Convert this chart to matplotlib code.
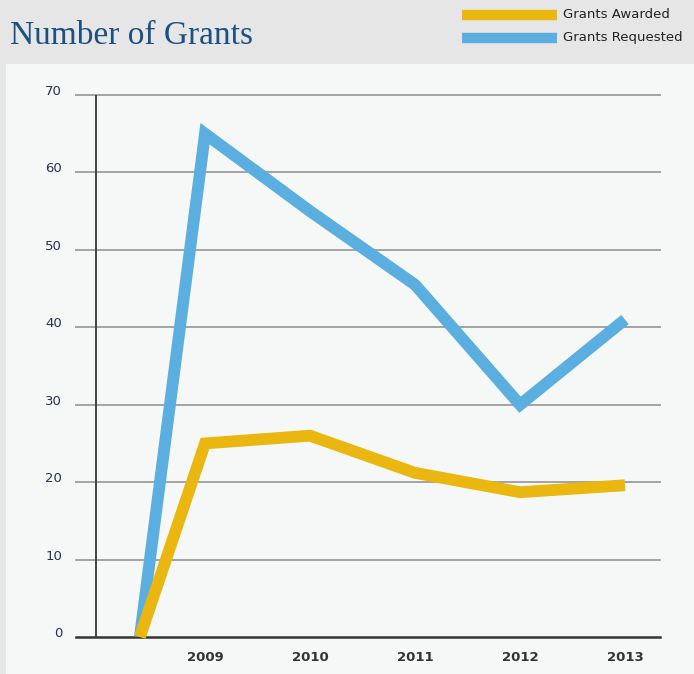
import numpy as np
import matplotlib
matplotlib.use("Agg")
import matplotlib.pyplot as plt
from matplotlib.patches import Rectangle

# data
years = [2009, 2010, 2011, 2012, 2013]
start_x = 2008.38
requested = [0, 65, 55, 45.5, 30, 41]
awarded = [0, 25, 26, 21.2, 18.7, 19.6]
yticks = [0, 10, 20, 30, 40, 50, 60, 70]

blue = '#5aaee0'
gold = '#e9b70f'

W, H = 694, 674
fig = plt.figure(figsize=(W / 100, H / 100), dpi=100)
fig.patch.set_facecolor('#e6e6e6')

# light panel behind the plot
fig.patches.append(Rectangle((6 / W, 0), 1 - 6 / W, (H - 64) / H,
                             transform=fig.transFigure, facecolor='#f6f8f8',
                             edgecolor='none', zorder=-10))

ax = fig.add_axes([76 / W, (H - 637) / H, (660 - 76) / W, (637 - 95) / H])
ax.set_facecolor('none')

xs = [start_x] + years
ax.plot(xs, requested, color=blue, lw=8.5, solid_capstyle='butt',
        solid_joinstyle='miter', zorder=3, clip_on=False, label='Grants Requested')
ax.plot(xs, awarded, color=gold, lw=8.5, solid_capstyle='butt',
        solid_joinstyle='miter', zorder=4, clip_on=False, label='Grants Awarded')

ax.set_xlim(2009 - 129 / 105, 2013 + 35 / 105)
ax.set_ylim(0, 70)

for t in yticks[1:]:
    ax.axhline(t, color='#a3a3a3', lw=1.4, zorder=1, clip_on=False)
ax.axhline(0, color='#333333', lw=1.8, zorder=2, clip_on=False)
ax.axvline(2009 - 109 / 105, color='#444444', lw=1.4, zorder=2)

for s in ax.spines.values():
    s.set_visible(False)

ax.set_yticks(yticks)
ax.set_yticklabels([str(t) for t in yticks], fontsize=9.5, color='#2b2f5c',
                   family='DejaVu Sans')
ax.tick_params(axis='y', length=0, pad=10)
for lab in ax.get_yticklabels():
    lab.set_va('baseline')

ax.set_xticks(years)
ax.set_xticklabels([str(y) for y in years], fontsize=9.5, fontweight='bold',
                   color='#333333')
ax.tick_params(axis='x', length=0, pad=10)

fig.text(10 / W, 1 - 44 / H, 'Number of Grants', family='Liberation Serif',
         fontsize=24, color='#1b4f86', va='baseline', ha='left')

# legend drawn by hand to match the swatch layout
for yy, col, txt in [(15, gold, 'Grants Awarded'), (38, blue, 'Grants Requested')]:
    fig.add_artist(plt.Line2D([462 / W, 557 / W], [1 - yy / H, 1 - yy / H],
                              color=col, lw=7.5, solid_capstyle='butt',
                              transform=fig.transFigure))
    fig.text(563 / W, 1 - yy / H, txt, fontsize=9.5, color='#222222',
             va='center', ha='left')

fig.savefig('out.png', dpi=100, facecolor=fig.get_facecolor())
